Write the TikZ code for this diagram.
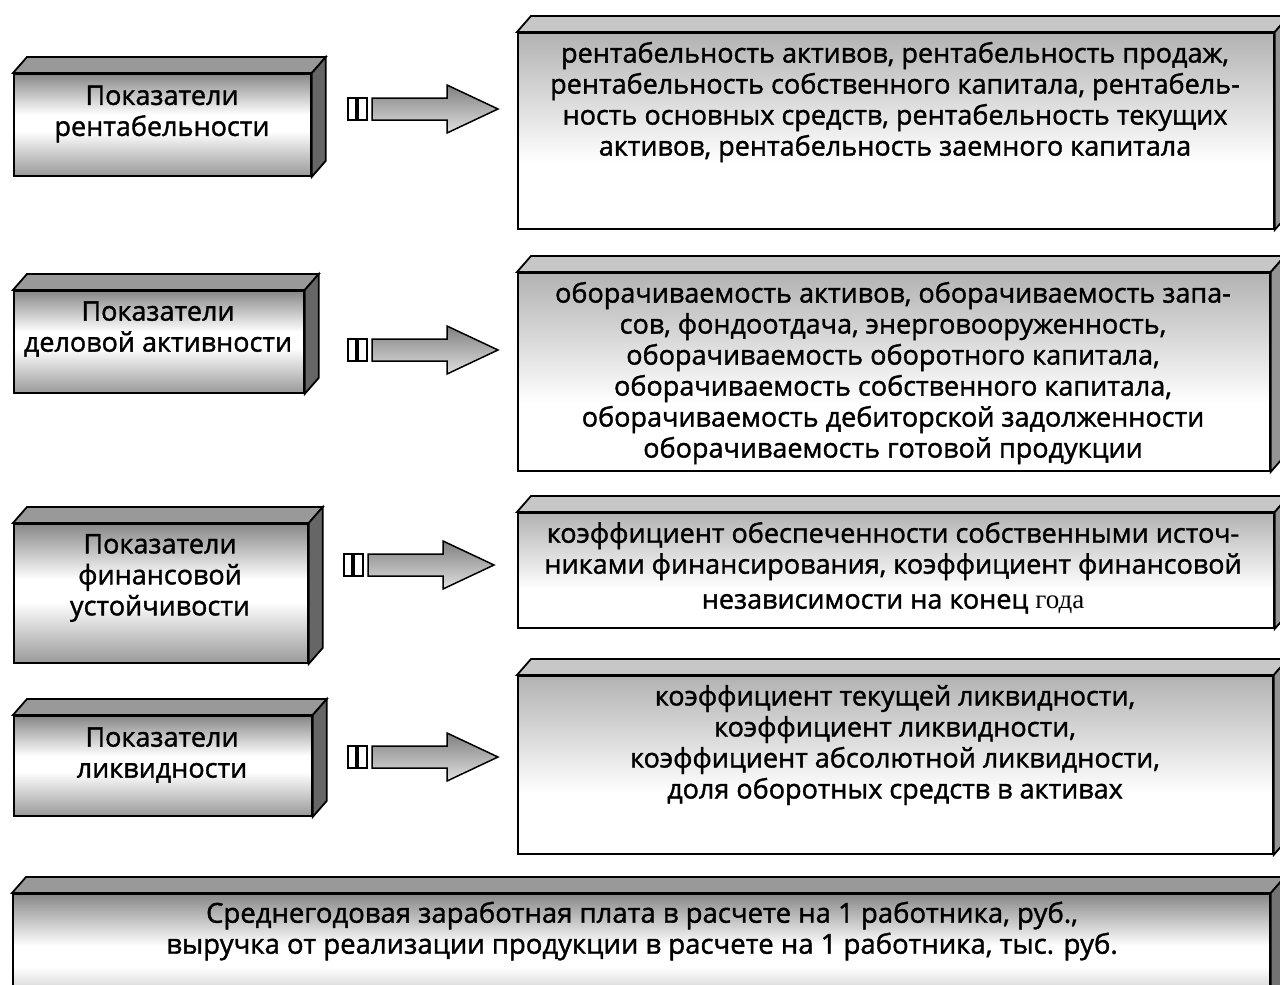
\documentclass[tikz,border=0pt]{standalone}
\usepackage{fontspec}
\setmainfont{Open Sans}[FakeBold=1.4]
\newfontfamily\serifrm{Liberation Serif}
\usetikzlibrary{calc}

% vertical fades for the front faces
\pgfdeclareverticalshading{lfade}{100bp}{color(0bp)=(black!40); color(25bp)=(black!40); color(47bp)=(white); color(55bp)=(white); color(75bp)=(black!47); color(100bp)=(black!47)}
\pgfdeclareverticalshading{rfade}{100bp}{color(0bp)=(white); color(25bp)=(white); color(42bp)=(white); color(75bp)=(black!30); color(100bp)=(black!30)}

\tikzset{
  edge/.style={draw=black, line width=1.8pt, line join=miter},
  front/.style={edge, rectangle, inner sep=0pt, anchor=north west},
  lbox/.style={front, shading=lfade},
  rbox/.style={front, shading=rfade},
  txt/.style={align=center, inner sep=0pt, font=\fontsize{27}{31}\selectfont},
  fatarrow/.pic={
    \draw[edge, line width=1.5pt, fill=white] (0,-11) rectangle (8,11);
    \draw[edge, line width=1.5pt, fill=white] (10,-11) rectangle (19,11);
    \draw[edge, line width=1.5pt, top color=black!50, bottom color=black!12]
      (24,-11) -- (99,-11) -- (99,-24) -- (150,0) -- (99,24) -- (99,11) -- (24,11) -- cycle;
  }
}

% top and side faces of a box: node, top colour, side colour
\newcommand\solid[3]{%
  \draw[edge, fill=#2] (#1.north west) -- ($(#1.north west)+(14,-16)$) -- ($(#1.north east)+(14,-16)$) -- (#1.north east) -- cycle;
  \draw[edge, fill=#3] (#1.north east) -- ($(#1.north east)+(14,-16)$) -- ($(#1.south east)+(14,-16)$) -- (#1.south east) -- cycle;}

\begin{document}
\begin{tikzpicture}[x=1pt, y=-1pt]
\useasboundingbox (0,0) rectangle (1280,985);
\clip (0,0) rectangle (1280,985);

% left column
\node[lbox, minimum width=297pt, minimum height=102pt] (l1) at (13,73) {};
\node[lbox, minimum width=290pt, minimum height=102pt] (l2) at (13,290) {};
\node[lbox, minimum width=294pt, minimum height=139pt] (l3) at (13,523) {};
\node[lbox, minimum width=298pt, minimum height=100pt] (l4) at (13,715) {};
\foreach \b in {l1,l2,l3,l4} {\solid{\b}{black!40}{black!60}}

\node[txt] (l1t) at (162,114) {Показатели\\рентабельности};
\node[txt] (l2t) at (158,329) {Показатели\\деловой активности};
\node[txt] (l3t) at (160,578) {Показатели\\финансовой\\устойчивости};
\node[txt] (l4t) at (162,755) {Показатели\\ликвидности};

% right column
\node[rbox, minimum width=756pt, minimum height=196pt] (r1) at (517,32) {};
\node[rbox, minimum width=752pt, minimum height=198pt] (r2) at (517,272) {};
\node[rbox, minimum width=756pt, minimum height=115pt] (r3) at (517,512) {};
\node[rbox, minimum width=755pt, minimum height=178pt] (r4) at (517,675) {};
\foreach \b in {r1,r2,r3,r4} {\solid{\b}{black!22}{black!42}}

\node[txt] (r1t) at (895,102) {рентабельность активов, рентабельность продаж,\\рентабельность собственного капитала, рентабель-\\ность основных средств, рентабельность текущих\\активов, рентабельность заемного капитала};
\node[txt] (r2t) at (893,373) {оборачиваемость активов, оборачиваемость запа-\\сов, фондоотдача, энерговооруженность,\\оборачиваемость оборотного капитала,\\оборачиваемость собственного капитала,\\оборачиваемость дебиторской задолженности\\оборачиваемость готовой продукции};
\node[txt] (r3t) at (893,568) {коэффициент обеспеченности собственными источ-\\никами финансирования, коэффициент финансовой\\[4pt]независимости на конец {\serifrm года}};
\node[txt] (r4t) at (895,745) {коэффициент текущей ликвидности,\\коэффициент ликвидности,\\коэффициент абсолютной ликвидности,\\доля оборотных средств в активах};

% arrows
\foreach \a/\x/\y in {a1/348/109, a2/348/350, a3/344/565, a4/348/757} {
  \coordinate (\a) at (\x,\y);
  \pic at (\a) {fatarrow};
}

% bottom bar
\node[lbox, minimum width=1257pt, minimum height=130pt] (b1) at (12,893) {};
\solid{b1}{black!40}{black!55}
\node[txt, font=\fontsize{27.5}{31}\selectfont] (b1t) at (642,931) {Среднегодовая заработная плата в расчете на 1 работника, руб.,\\выручка от реализации продукции в расчете на 1 работника, тыс. руб.};
\end{tikzpicture}
\end{document}
